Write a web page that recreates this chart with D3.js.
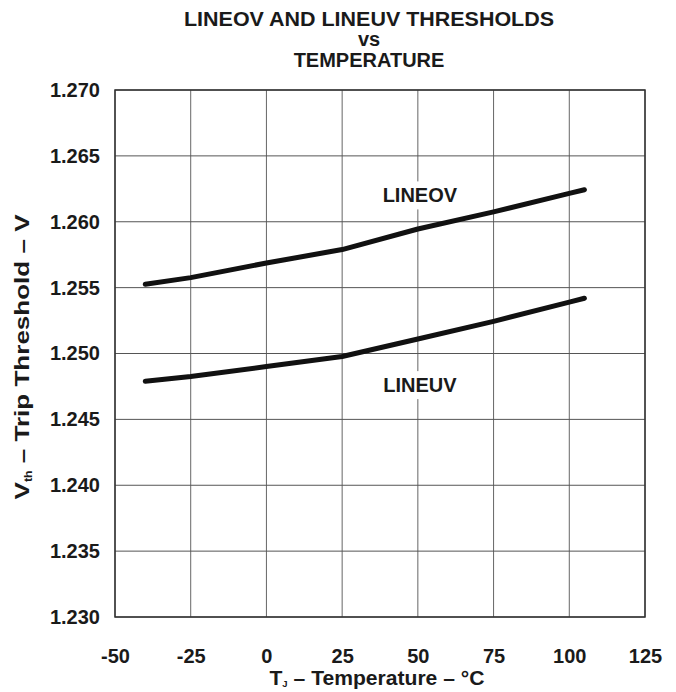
<!DOCTYPE html>
<html>
<head>
<meta charset="utf-8">
<script src="https://cdn.jsdelivr.net/npm/d3@7"></script>
<style>
  html, body { margin: 0; padding: 0; background: #fff; }
  svg { display: block; }
  text { font-family: "Liberation Sans", Arial, Helvetica, sans-serif; font-weight: bold; fill: #1a1a1a; }
</style>
</head>
<body>
<svg id="chart" width="676" height="692"></svg>
<script>
const temperatures = [-40, -25, 0, 25, 50, 75, 100, 105];
const lineovValues = [1.25525, 1.25576, 1.25687, 1.25789, 1.25945, 1.26075, 1.26215, 1.26243];
const lineuvValues = [1.2479, 1.24825, 1.24901, 1.24977, 1.2511, 1.25244, 1.2539, 1.25419];
const xTicks = [-50, -25, 0, 25, 50, 75, 100, 125];
const yTicks = [1.230, 1.235, 1.240, 1.245, 1.250, 1.255, 1.260, 1.265, 1.270];
const titleLines = ["LINEOV AND LINEUV THRESHOLDS", "vs", "TEMPERATURE"];
const seriesLabels = [
  { name: "LINEOV", values: lineovValues, lx: 50, ly: 1.2620 },
  { name: "LINEUV", values: lineuvValues, lx: 50, ly: 1.2476 }
];

const svg = d3.select("#chart");
const m = { left: 115, right: 645, top: 90, bottom: 617 };
const x = d3.scaleLinear().domain([-50, 125]).range([m.left, m.right]);
const y = d3.scaleLinear().domain([1.230, 1.270]).range([m.bottom, m.top]);

// title
const titleY = [26, 46, 67];
titleLines.forEach((t, i) => {
  svg.append("text").attr("x", 369).attr("y", titleY[i])
    .attr("text-anchor", "middle").attr("font-size", 20)
    .attr("textLength", i === 0 ? 370 : null)
    .attr("lengthAdjust", "spacingAndGlyphs")
    .text(t);
});

// grid
const g = svg.append("g");
g.selectAll(".vg").data(xTicks).join("line")
  .attr("x1", d => x(d)).attr("x2", d => x(d))
  .attr("y1", m.top).attr("y2", m.bottom)
  .attr("stroke", "#666").attr("stroke-width", 1);
g.selectAll(".hg").data(yTicks).join("line")
  .attr("x1", m.left).attr("x2", m.right)
  .attr("y1", d => y(d)).attr("y2", d => y(d))
  .attr("stroke", "#555").attr("stroke-width", 1);
g.append("rect").attr("x", m.left).attr("y", m.top)
  .attr("width", m.right - m.left).attr("height", m.bottom - m.top)
  .attr("fill", "none").attr("stroke", "#333").attr("stroke-width", 1.5);

// axes (labels only)
const xAxis = d3.axisBottom(x).tickValues(xTicks).tickFormat(d => String(d)).tickSize(0).tickPadding(0);
const xa = svg.append("g").attr("transform", `translate(0,${m.bottom + 32})`).call(xAxis);
xa.select(".domain").remove();
xa.selectAll("text").attr("font-size", 20).attr("fill", "#1a1a1a").attr("font-family", null);

const yAxis = d3.axisLeft(y).tickValues(yTicks).tickFormat(d3.format(".3f")).tickSize(0).tickPadding(0);
const ya = svg.append("g").attr("transform", `translate(${m.left - 15},0)`).call(yAxis);
ya.select(".domain").remove();
ya.selectAll("text").attr("font-size", 20).attr("fill", "#1a1a1a").attr("font-family", null);

// axis titles
const xt = svg.append("text").attr("x", 377).attr("y", 685).attr("text-anchor", "middle").attr("font-size", 20)
  .attr("textLength", 215).attr("lengthAdjust", "spacingAndGlyphs");
xt.append("tspan").text("T");
xt.append("tspan").attr("font-size", 9).attr("dy", 2).text("J");
xt.append("tspan").attr("dy", -2).text(" – Temperature – °C");

const yt = svg.append("text").attr("transform", `translate(29,357) rotate(-90)`)
  .attr("text-anchor", "middle").attr("font-size", 21)
  .attr("textLength", 285).attr("lengthAdjust", "spacingAndGlyphs");
yt.append("tspan").text("V");
yt.append("tspan").attr("font-size", 10).attr("dy", 3).text("th");
yt.append("tspan").attr("dy", -3).text(" – Trip Threshold – V");

// lines
const line = d3.line().x((d, i) => x(temperatures[i])).y(d => y(d));
seriesLabels.forEach(s => {
  svg.append("path").datum(s.values).attr("d", line)
    .attr("fill", "none").attr("stroke", "#111").attr("stroke-width", 5)
    .attr("stroke-linecap", "round").attr("stroke-linejoin", "round");
});

// labels with white background
seriesLabels.forEach(s => {
  const t = svg.append("text").attr("x", x(s.lx) + 2).attr("y", y(s.ly))
    .attr("text-anchor", "middle")
    .attr("dominant-baseline", "central").attr("font-size", 20).text(s.name);
  const bb = t.node().getBBox();
  svg.insert("rect", () => t.node()).attr("x", bb.x - 2).attr("y", bb.y - 3)
    .attr("width", bb.width + 4).attr("height", bb.height + 6).attr("fill", "#fff");
});
</script>
</body>
</html>
